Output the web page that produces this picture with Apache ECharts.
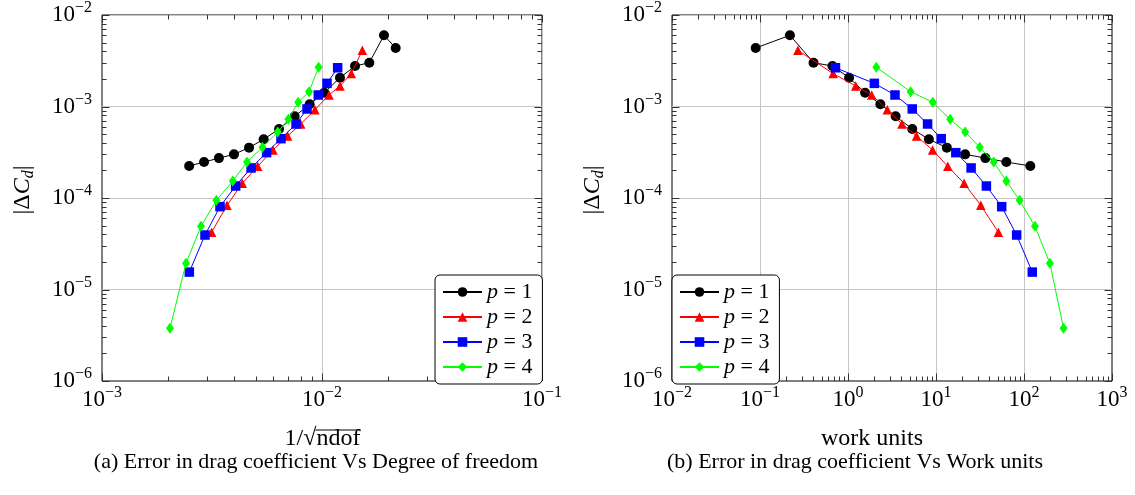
<!DOCTYPE html>
<html>
<head>
<meta charset="utf-8">
<script src="https://cdn.jsdelivr.net/npm/echarts@6/dist/echarts.min.js"></script>
<style>
  html, body { margin: 0; padding: 0; background: #ffffff; }
  #chart { width: 1135px; height: 495px; }
</style>
</head>
<body>
<div id="chart"></div>
<script>
// Drag-coefficient error |ΔC_d| per polynomial order p, against mesh size
// h = 1/sqrt(ndof) (left panel) and against work units (right panel).

const orders = [1, 2, 3, 4];
const seriesColors = ['#000000', '#ff0000', '#0000ff', '#00ff00'];
const markers = ['circle', 'triangle', 'rect', 'diamond'];
const markerSizes = [10, 9.5, 9.5, [8, 11]];

// p = 1
const hP1    = [2.49e-3, 2.91e-3, 3.40e-3, 3.98e-3, 4.66e-3, 5.43e-3, 6.38e-3, 7.51e-3, 8.79e-3, 1.025e-2, 1.207e-2, 1.413e-2, 1.641e-2, 1.913e-2, 2.162e-2];
const workP1 = [117.9, 63.0, 36.42, 21.43, 13.28, 8.30, 5.374, 3.478, 2.331, 1.563, 1.029, 0.666, 0.4058, 0.2188, 0.0893];
const errP1  = [2.24e-4, 2.47e-4, 2.73e-4, 3.00e-4, 3.55e-4, 4.38e-4, 5.68e-4, 7.81e-4, 1.057e-3, 1.416e-3, 2.065e-3, 2.77e-3, 3.01e-3, 6.00e-3, 4.36e-3];

// p = 2
const hP2    = [3.15e-3, 3.70e-3, 4.34e-3, 5.10e-3, 5.99e-3, 6.98e-3, 8.00e-3, 9.29e-3, 1.076e-2, 1.207e-2, 1.359e-2, 1.525e-2];
const workP2 = [51.15, 32.25, 20.87, 13.63, 9.14, 6.017, 4.104, 2.798, 1.859, 1.225, 0.678, 0.2697];
const errP2  = [4.22e-5, 8.32e-5, 1.445e-4, 2.22e-4, 3.35e-4, 4.76e-4, 6.44e-4, 9.23e-4, 1.336e-3, 1.675e-3, 2.29e-3, 4.11e-3];

// p = 3
const hP3    = [2.494e-3, 2.938e-3, 3.438e-3, 4.05e-3, 4.76e-3, 5.60e-3, 6.51e-3, 7.62e-3, 8.55e-3, 9.62e-3, 1.054e-2, 1.178e-2];
const workP3 = [124.2, 82.5, 55.78, 37.38, 25.06, 16.8, 11.46, 8.02, 5.374, 3.42, 1.993, 0.7204];
const errP3  = [1.55e-5, 3.94e-5, 8.04e-5, 1.352e-4, 2.13e-4, 3.13e-4, 4.45e-4, 6.44e-4, 9.40e-4, 1.336e-3, 1.79e-3, 2.65e-3];

// p = 4
const hP4    = [2.037e-3, 2.408e-3, 2.818e-3, 3.31e-3, 3.93e-3, 4.56e-3, 5.36e-3, 6.29e-3, 7.03e-3, 7.80e-3, 8.73e-3, 9.65e-3];
const workP4 = [281.3, 197.0, 133.2, 89.2, 63.0, 45.28, 31.43, 21.43, 14.49, 9.21, 5.145, 2.10];
const errP4  = [3.77e-6, 1.93e-5, 4.90e-5, 9.42e-5, 1.534e-4, 2.47e-4, 3.58e-4, 5.26e-4, 7.24e-4, 1.111e-3, 1.453e-3, 2.68e-3];

// Axis decades (tick exponents)
const xExpLeft  = [-3, -2, -1];
const xExpRight = [-2, -1, 0, 1, 2, 3];
const yExp      = [-6, -5, -4, -3, -2];

const captions = [
  '(a) Error in drag coefficient Vs Degree of freedom',
  '(b) Error in drag coefficient Vs Work units'
];
const xTitleRight = 'work units';

const hSets    = [hP1, hP2, hP3, hP4];
const workSets = [workP1, workP2, workP3, workP4];
const errSets  = [errP1, errP2, errP3, errP4];

const FONT = 'Liberation Serif';
const grids = [
  { left: 102, top: 15, width: 440, height: 366 },
  { left: 672, top: 15, width: 440, height: 366 }
];

const labelRich = {
  b: { fontFamily: FONT, fontSize: 23, lineHeight: 30, color: '#000' },
  s: { fontFamily: FONT, fontSize: 16, lineHeight: 16, verticalAlign: 'top', color: '#000' }
};

function powerLabel(value) {
  const e = Math.round(Math.log10(value));
  return '{b|10}{s|' + (e < 0 ? '\u2212' + (-e) : String(e)) + '}';
}

function logAxis(gridIndex, exps, isX) {
  return {
    type: 'log',
    logBase: 10,
    gridIndex: gridIndex,
    min: Math.pow(10, exps[0]),
    max: Math.pow(10, exps[exps.length - 1]),
    axisLine: { show: false },
    axisTick: { show: false },
    splitLine: {
      show: true, showMinLine: false, showMaxLine: false,
      lineStyle: { color: '#c6c6c6', width: 1 }
    },
    axisLabel: {
      formatter: powerLabel,
      margin: isX ? 4 : 10,
      rich: labelRich,
      showMinLabel: true,
      showMaxLabel: true
    }
  };
}

// Major + minor tick rows for one axis: [x, y, direction, length]
function tickRows(exps, isX, otherMin) {
  const rows = [];
  for (let i = 0; i < exps.length; i++) {
    const base = Math.pow(10, exps[i]);
    rows.push(isX ? [base, otherMin, 0, 7.5] : [otherMin, base, 1, 7.5]);
    if (i < exps.length - 1) {
      for (let m = 2; m <= 9; m++) {
        const v = m * base;
        rows.push(isX ? [v, otherMin, 0, 4.5] : [otherMin, v, 1, 4.5]);
      }
    }
  }
  return rows;
}

function renderTick(params, api) {
  const cs = params.coordSys;
  const dir = api.value(2);
  const len = api.value(3);
  const pt = api.coord([api.value(0), api.value(1)]);
  const mk = (x1, y1, x2, y2) => ({
    type: 'line',
    shape: { x1: x1, y1: y1, x2: x2, y2: y2 },
    style: { stroke: '#333333', lineWidth: 1 }
  });
  if (dir === 0) {
    const px = Math.round(pt[0]) + 0.5;
    const yb = cs.y + cs.height, yt = cs.y;
    return { type: 'group', children: [mk(px, yb, px, yb - len), mk(px, yt, px, yt + len)] };
  }
  const py = Math.round(pt[1]) + 0.5;
  const xl = cs.x, xr = cs.x + cs.width;
  return { type: 'group', children: [mk(xl, py, xl + len, py), mk(xr, py, xr - len, py)] };
}

const seriesNames = orders.map(p => 'p = ' + p);

const series = [];
[0, 1].forEach(g => {
  const xs = g === 0 ? hSets : workSets;
  orders.forEach((p, k) => {
    series.push({
      type: 'line',
      name: seriesNames[k],
      xAxisIndex: g,
      yAxisIndex: g,
      data: xs[k].map((x, i) => [x, errSets[k][i]]),
      symbol: markers[k],
      symbolSize: markerSizes[k],
      showAllSymbol: true,
      lineStyle: { color: seriesColors[k], width: 1 },
      itemStyle: { color: seriesColors[k] },
      emphasis: { disabled: true },
      z: 3 + k
    });
  });
  const xExps = g === 0 ? xExpLeft : xExpRight;
  series.push({
    type: 'custom',
    name: 'ticks' + g,
    xAxisIndex: g,
    yAxisIndex: g,
    silent: true,
    z: 2,
    clip: false,
    dimensions: ['x', 'y', 'dir', 'len'],
    encode: { x: 0, y: 1 },
    renderItem: renderTick,
    data: tickRows(xExps, true, Math.pow(10, yExp[0]))
      .concat(tickRows(yExp, false, Math.pow(10, xExps[0])))
  });
});

function legendAt(left) {
  return {
    data: seriesNames,
    left: left,
    top: 275,
    orient: 'vertical',
    itemWidth: 39,
    itemHeight: 12,
    itemGap: 3,
    padding: [6, 10, 6, 7],
    borderColor: '#000',
    borderWidth: 1,
    borderRadius: 5,
    backgroundColor: '#ffffff',
    selectedMode: false,
    formatter: name => '{i|p}{n| = ' + name.split('= ')[1] + '}',
    textStyle: {
      fontFamily: FONT,
      fontSize: 22,
      color: '#000',
      rich: {
        i: { fontFamily: FONT, fontStyle: 'italic', fontSize: 22, color: '#000' },
        n: { fontFamily: FONT, fontSize: 22, color: '#000' }
      }
    }
  };
}

// Text measurement for the radical overline in the left x-axis title
const measureCtx = document.createElement('canvas').getContext('2d');
function textWidth(str, size) {
  measureCtx.font = size + 'px "' + FONT + '"';
  return measureCtx.measureText(str).width;
}

const titleSize = 24;
const titleBase = 447;
const titleMid = titleBase - 0.34 * titleSize;
const wA = textWidth('1/\u221A', titleSize);
const wB = textWidth('ndof', titleSize);
const startA = 322.5 - (wA + wB) / 2;

const yTitleRich = {
  t: { fontFamily: FONT, fontSize: 24, lineHeight: 28, color: '#000' },
  it: { fontFamily: FONT, fontSize: 24, lineHeight: 28, fontStyle: 'italic', color: '#000' },
  sub: { fontFamily: FONT, fontSize: 16, lineHeight: 14, fontStyle: 'italic', verticalAlign: 'bottom', color: '#000' }
};
const yTitleText = '{t||\u0394}{it|C}{sub|d}{t||}';

const graphic = [
  { type: 'text', x: startA, y: titleMid, style: { text: '1/\u221A', font: titleSize + 'px "' + FONT + '"', fill: '#000', align: 'left', verticalAlign: 'middle' } },
  { type: 'text', x: startA + wA, y: titleMid, style: { text: 'ndof', font: titleSize + 'px "' + FONT + '"', fill: '#000', align: 'left', verticalAlign: 'middle' } },
  { type: 'line', shape: { x1: startA + wA - 1, y1: titleBase - 17, x2: startA + wA + wB, y2: titleBase - 17 }, style: { stroke: '#000', lineWidth: 1 } },
  { type: 'text', x: 872, y: titleMid, style: { text: xTitleRight, font: titleSize + 'px "' + FONT + '"', fill: '#000', align: 'center', verticalAlign: 'middle' } },
  { type: 'text', x: 23, y: 190, rotation: Math.PI / 2, style: { text: yTitleText, rich: yTitleRich, align: 'center', verticalAlign: 'middle' } },
  { type: 'text', x: 593, y: 190, rotation: Math.PI / 2, style: { text: yTitleText, rich: yTitleRich, align: 'center', verticalAlign: 'middle' } },
  { type: 'text', x: 316, y: 462, style: { text: captions[0], font: '22px "' + FONT + '"', fill: '#000', align: 'center', verticalAlign: 'middle' } },
  { type: 'text', x: 855, y: 462, style: { text: captions[1], font: '22px "' + FONT + '"', fill: '#000', align: 'center', verticalAlign: 'middle' } }
];

const chart = echarts.init(document.getElementById('chart'), null, { renderer: 'canvas' });
chart.setOption({
  animation: false,
  backgroundColor: '#ffffff',
  grid: grids.map(g => Object.assign({ show: true, borderColor: '#000', borderWidth: 1, backgroundColor: 'transparent' }, g)),
  xAxis: [logAxis(0, xExpLeft, true), logAxis(1, xExpRight, true)],
  yAxis: [logAxis(0, yExp, false), logAxis(1, yExp, false)],
  legend: [legendAt(435), legendAt(672)],
  series: series,
  graphic: graphic
});
</script>
</body>
</html>
